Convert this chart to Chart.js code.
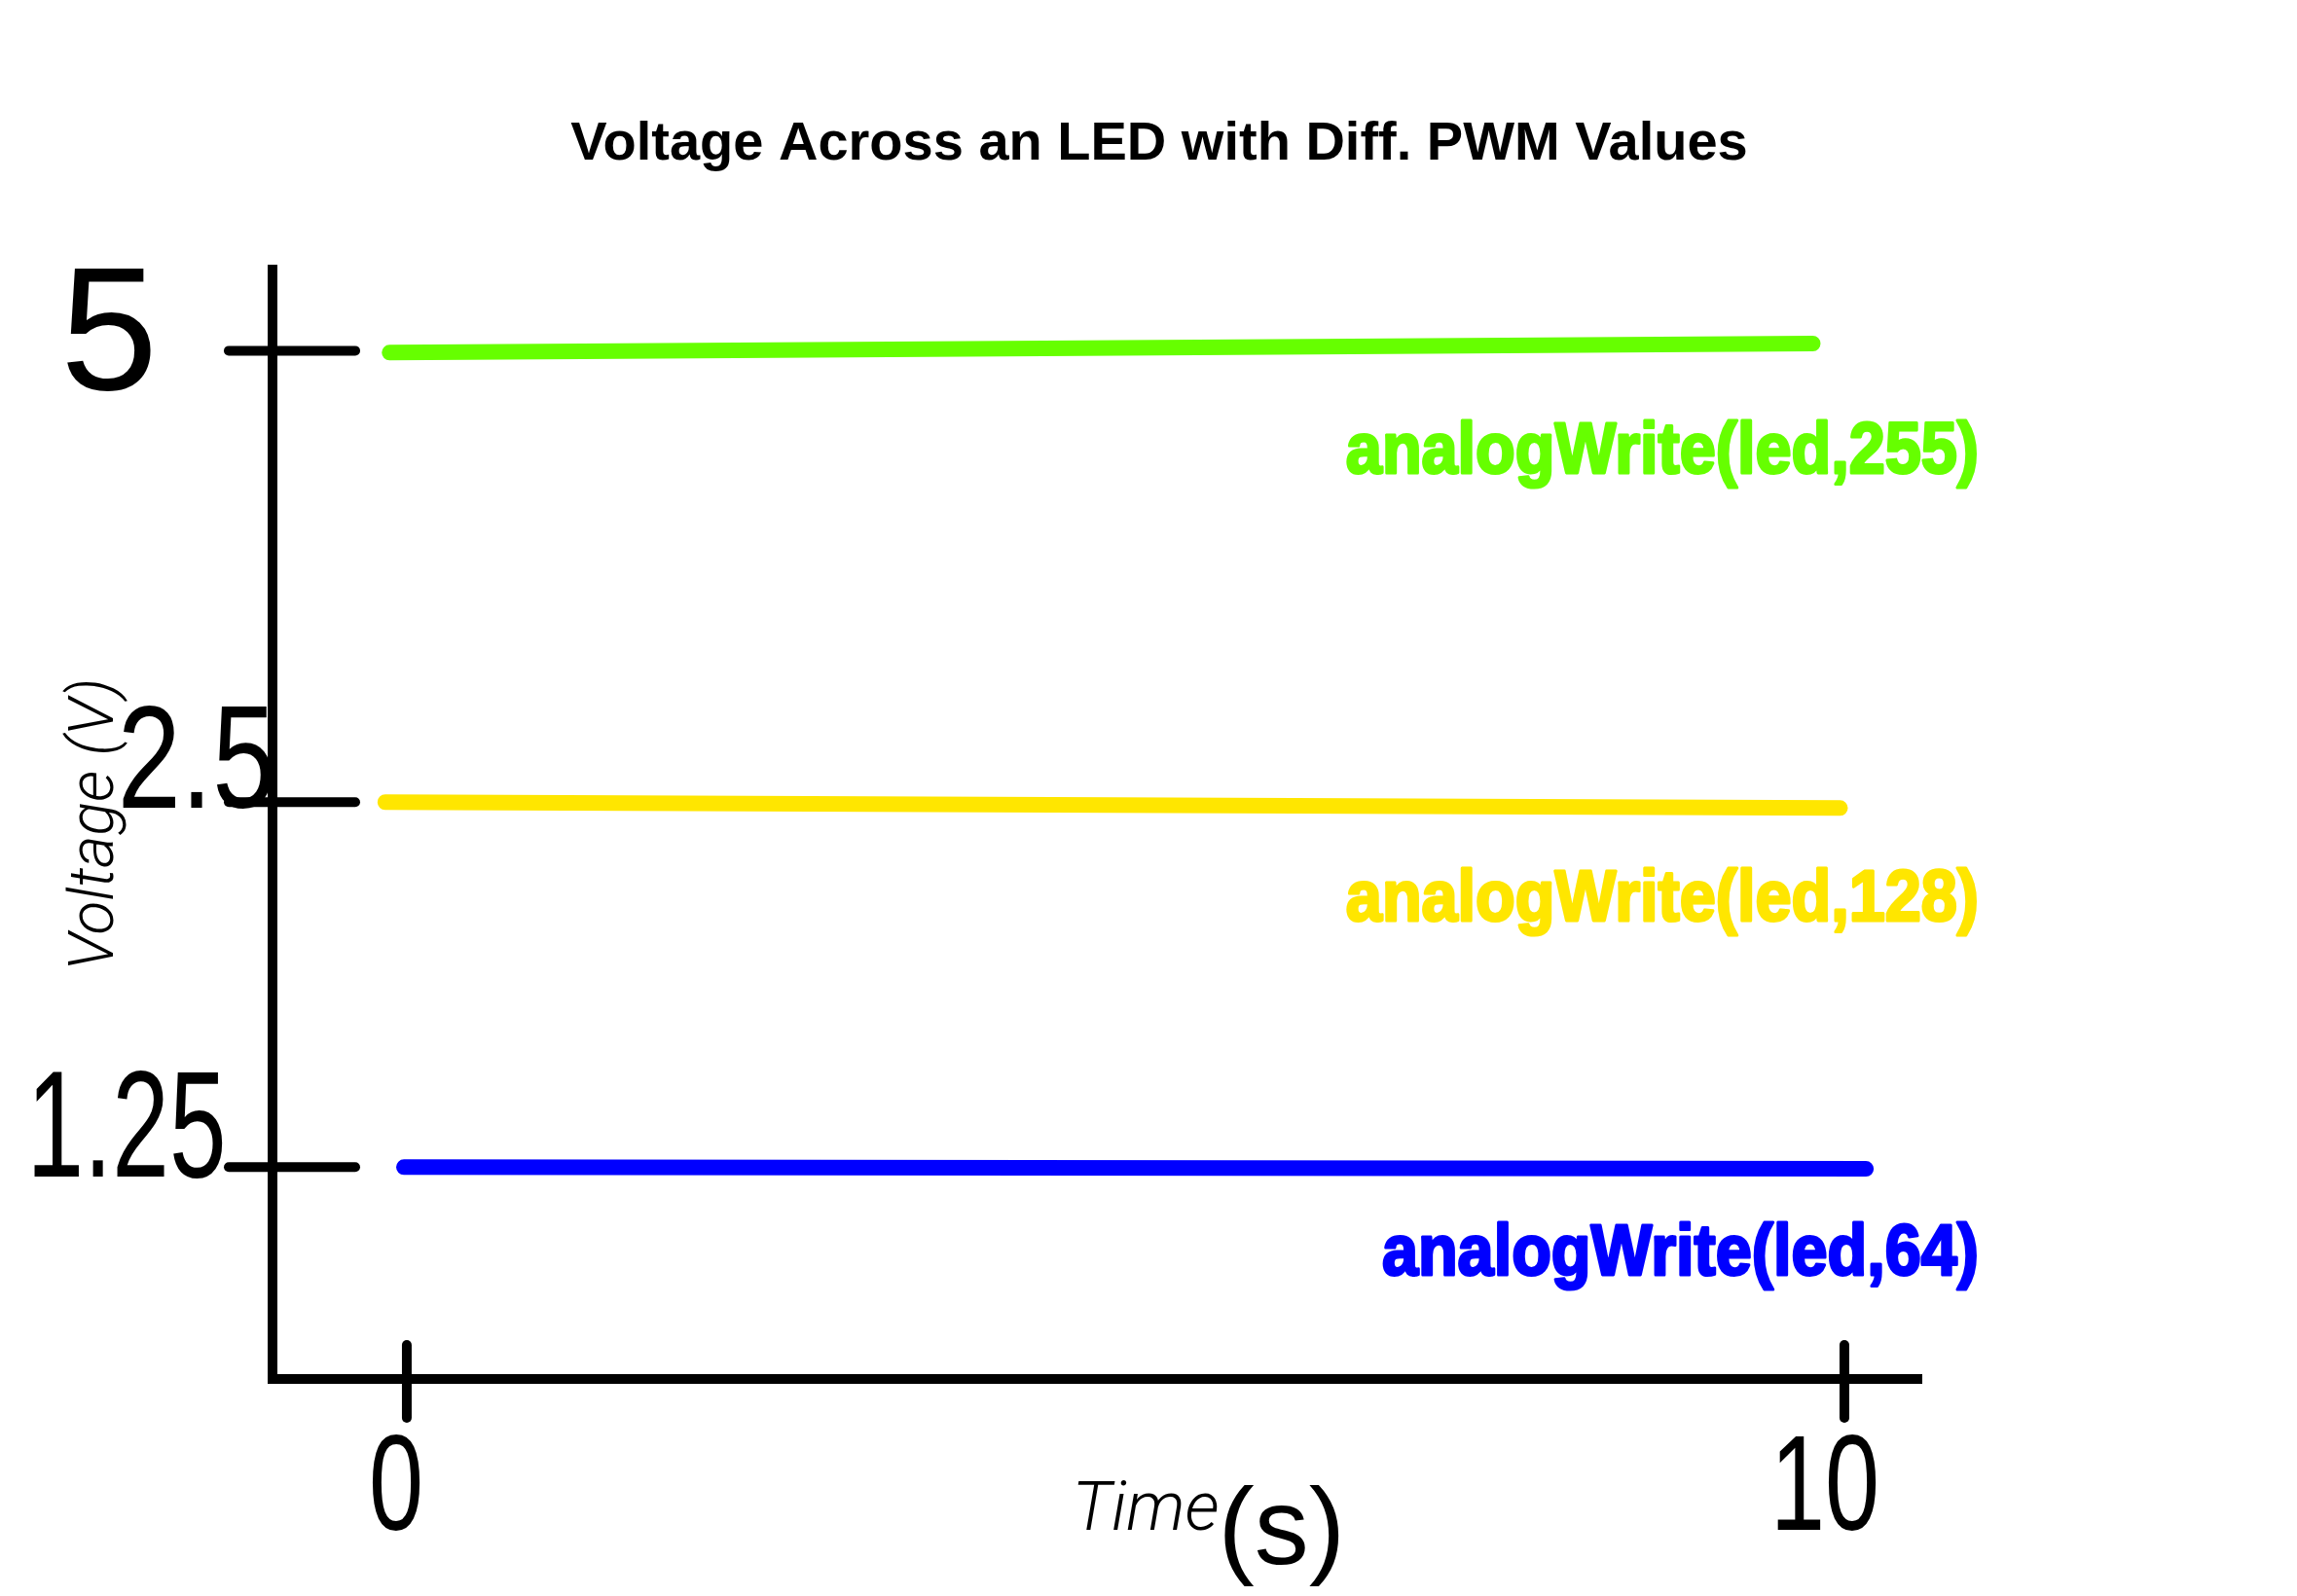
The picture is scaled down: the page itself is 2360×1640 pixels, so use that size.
<!DOCTYPE html>
<html>
<head>
<meta charset="utf-8">
<title>Voltage Across an LED with Diff. PWM Values</title>
<script src="https://cdn.jsdelivr.net/npm/chart.js@4.4.1/dist/chart.umd.min.js"></script>
<style>
	html, body { margin: 0; padding: 0; background: #fff; }
	#wrap { width: 2360px; height: 1640px; position: relative; }
</style>
</head>
<body>
<div id="wrap"><canvas id="ledChart"></canvas></div>
<script>
// series
const seriesNames = ['analogWrite(led,255)', 'analogWrite(led,128)', 'analogWrite(led,64)'];
const seriesColors = ['#66FF00', '#FFE600', '#0000FF'];
const seriesTime = [[-0.12, 9.78], [-0.15, 9.97], [-0.02, 10.15]];
const seriesVolts = [[4.99, 5.04], [2.50, 2.48], [1.25, 1.24]];

// axis ticks
const yTicks = [5, 2.5, 1.25];
const yTickLabels = ['5', '2.5', '1.25'];
const xTicks = [0, 10];
const xTickLabels = ['0', '10'];

// the y axis was drawn by hand, so the gaps between its ticks are not even.
// value -> share of the axis height, as spaced in the sketch
const handStopValues = [0, 1.25, 2.5, 5, 5.45];
const handStopShares = [0, 0.191, 0.52, 0.927, 1];

function handShare(v) {
	const n = handStopValues.length;
	if (v <= handStopValues[0]) return handStopShares[0];
	for (let i = 1; i < n; i++) {
		if (v <= handStopValues[i]) {
			const t = (v - handStopValues[i - 1]) / (handStopValues[i] - handStopValues[i - 1]);
			return handStopShares[i - 1] + t * (handStopShares[i] - handStopShares[i - 1]);
		}
	}
	return handStopShares[n - 1];
}

class HandScale extends Chart.LinearScale {
	getPixelForValue(value) {
		if (value === null || value === undefined || isNaN(value)) return NaN;
		return this.getPixelForDecimal(handShare(value));
	}
}
HandScale.id = 'hand';
HandScale.defaults = {};
Chart.register(HandScale);

const HAND_FONT = "'Liberation Sans', 'DejaVu Sans', sans-serif";
const LIGHT_FONT = "Roboto, 'Liberation Sans', sans-serif";

function handText(ctx, text, x, y, size, squeeze) {
	ctx.save();
	ctx.translate(x, y);
	ctx.scale(squeeze, 1);
	ctx.font = size + 'px ' + HAND_FONT;
	ctx.fillStyle = '#000';
	ctx.textAlign = 'center';
	ctx.textBaseline = 'middle';
	ctx.fillText(text, 0, 0);
	ctx.restore();
}

// hand-drawn tick strokes, tick labels, series labels and the time caption
const sketchPlugin = {
	id: 'sketch',
	afterDraw(chart) {
		const ctx = chart.ctx;
		const xs = chart.scales.x;
		const ys = chart.scales.y;
		const area = chart.chartArea;

		ctx.save();
		ctx.strokeStyle = '#000';
		ctx.lineWidth = 10;
		ctx.lineCap = 'round';

		// y ticks cross the axis
		const yNudge = [[-168, -10], [-78, -36], [-150, -33]];
		const ySize = [180, 150, 155];
		const ySqueeze = [1.0, 0.78, 0.68];
		yTicks.forEach((v, i) => {
			const py = ys.getPixelForValue(v);
			ctx.beginPath();
			ctx.moveTo(area.left - 45, py);
			ctx.lineTo(area.left + 85, py);
			ctx.stroke();
			handText(ctx, yTickLabels[i], area.left + yNudge[i][0], py + yNudge[i][1], ySize[i], ySqueeze[i]);
		});

		// x ticks
		const xNudge = [[-11, 116], [-20, 116]];
		xTicks.forEach((v, i) => {
			const px = xs.getPixelForValue(v);
			ctx.beginPath();
			ctx.moveTo(px, area.bottom - 35);
			ctx.lineTo(px, area.bottom + 40);
			ctx.stroke();
			handText(ctx, xTickLabels[i], px + xNudge[i][0], area.bottom + xNudge[i][1], 140, 0.72);
		});
		ctx.restore();

		// series labels under the right end of each line
		const labelDrop = [128, 119, 110];
		chart.data.datasets.forEach((ds, i) => {
			const pts = chart.getDatasetMeta(i).data;
			const midY = (pts[0].y + pts[pts.length - 1].y) / 2;
			ctx.save();
			ctx.translate(xs.getPixelForValue(10) + 138, midY + labelDrop[i]);
			ctx.scale(0.9, 1);
			ctx.font = 'bold 74px ' + HAND_FONT;
			ctx.fillStyle = ds.borderColor;
			ctx.strokeStyle = ds.borderColor;
			ctx.lineWidth = 3;
			ctx.lineJoin = 'round';
			ctx.textAlign = 'right';
			ctx.textBaseline = 'alphabetic';
			ctx.fillText(ds.label, 0, 0);
			ctx.strokeText(ds.label, 0, 0);
			ctx.restore();
		});

		// x axis caption: "Time" typed, "(s)" hand written
		const cx = xs.getPixelForValue(5);
		ctx.save();
		ctx.fillStyle = '#000';
		ctx.font = 'italic 300 70px ' + LIGHT_FONT;
		ctx.textAlign = 'left';
		ctx.textBaseline = 'alphabetic';
		ctx.fillText('Time', cx - 55, area.bottom + 155);
		ctx.font = '112px ' + HAND_FONT;
		ctx.fillText('(s)', cx + 95, area.bottom + 190);
		ctx.restore();
	}
};

const datasets = seriesNames.map((name, i) => ({
	label: name,
	data: seriesTime[i].map((t, j) => ({x: t, y: seriesVolts[i][j]})),
	xAxisID: 'x',
	yAxisID: 'y',
	borderColor: seriesColors[i],
	backgroundColor: seriesColors[i],
	borderWidth: 16,
	borderCapStyle: 'round',
	pointRadius: 0,
	tension: 0,
	fill: false
}));

new Chart(document.getElementById('ledChart'), {
	type: 'line',
	data: {datasets: datasets},
	plugins: [sketchPlugin],
	options: {
		responsive: true,
		maintainAspectRatio: false,
		animation: false,
		events: [],
		layout: {padding: {left: 22, right: 0, top: 0, bottom: 0}},
		plugins: {
			legend: {display: false},
			tooltip: {enabled: false},
			title: {
				display: true,
				text: 'Voltage Across an LED with Diff. PWM Values',
				color: '#000',
				font: {family: "'Liberation Sans', Arial, sans-serif", size: 56, weight: 'bold'},
				padding: {top: 115, bottom: 95}
			}
		},
		scales: {
			x: {
				type: 'linear',
				min: -0.934,
				max: 10.535,
				border: {display: true, color: '#000', width: 10},
				grid: {display: false, drawTicks: false},
				ticks: {display: false},
				title: {display: false},
				afterFit: (s) => { s.height = 223; }
			},
			y: {
				type: 'hand',
				position: 'left',
				min: 0,
				max: 5.45,
				border: {display: true, color: '#000', width: 10},
				grid: {display: false, drawTicks: false},
				ticks: {display: false},
				title: {
					display: true,
					text: 'Voltage (V)',
					color: '#000',
					font: {family: LIGHT_FONT, size: 64, style: 'italic', weight: 300},
					padding: {top: 40, bottom: 0}
				},
				afterFit: (s) => { s.width = 258; }
			},
			// empty margin on the right where the labels hang out past the axis
			margin: {
				type: 'linear',
				axis: 'y',
				position: 'right',
				border: {display: false},
				grid: {display: false, drawTicks: false},
				ticks: {display: false},
				afterFit: (s) => { s.width = 386; }
			}
		}
	}
});
</script>
</body>
</html>
